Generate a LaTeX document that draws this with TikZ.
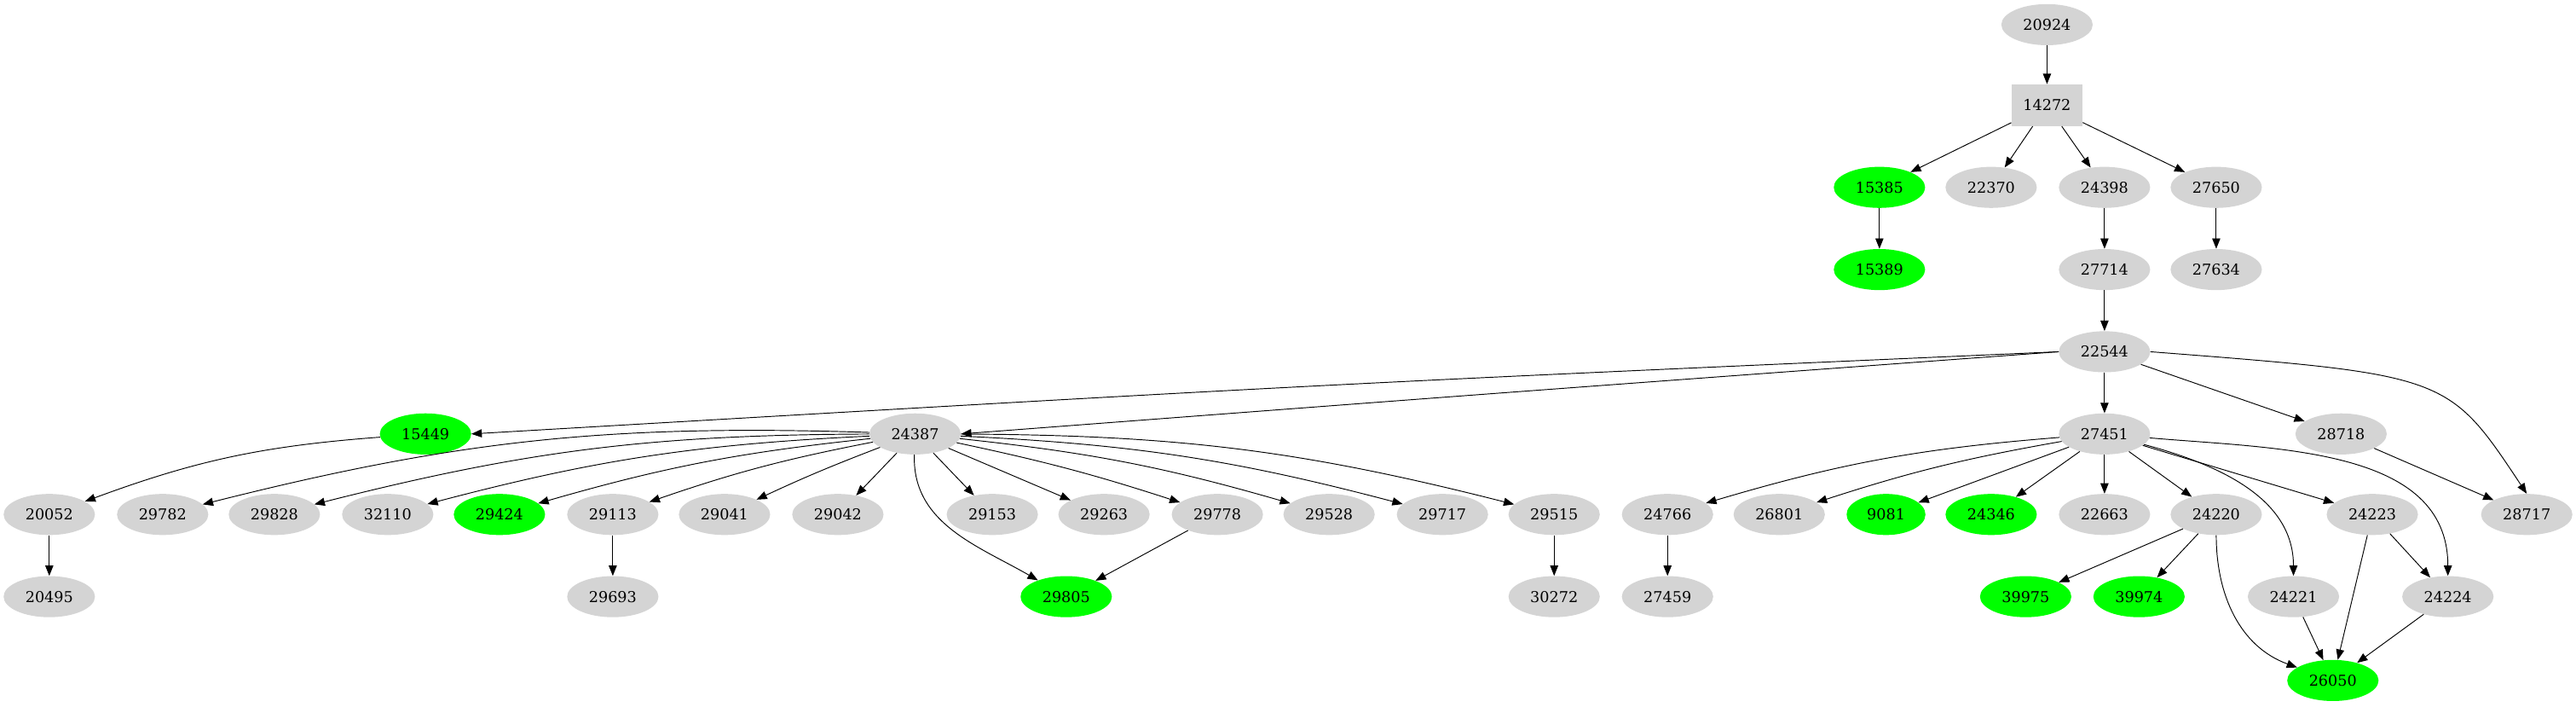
\documentclass[tikz,border=0pt]{standalone}
\usepackage{fontspec}
\setmainfont{DejaVu Serif}
\usetikzlibrary{shapes.geometric,arrows.meta}
\begin{document}
\begin{tikzpicture}[x=0.05cm,y=-0.05cm,
 nd/.style={ellipse,fill=black!17,minimum width=2.78cm,minimum height=1.25cm,inner sep=0pt,font=\fontsize{13}{13}\selectfont},
 gn/.style={nd,fill=green},
 nn/.style={minimum width=2.4cm},
 bx/.style={rectangle,fill=black!17,minimum width=2.16cm,minimum height=1.27cm,font=\fontsize{13}{13}\selectfont},
 e/.style={-{Triangle[length=9pt,width=7pt]},line width=0.7pt}]
\useasboundingbox (0,0) rectangle (1568,430);
\node[nd] (a20924) at (1246,15) {20924};
\node[bx] (a14272) at (1246,64) {14272};
\node[gn] (a15385) at (1144,114) {15385};
\node[nd] (a22370) at (1212,114) {22370};
\node[nd] (a24398) at (1281,114) {24398};
\node[nd] (a27650) at (1349,114) {27650};
\node[gn] (a15389) at (1144,164) {15389};
\node[nd] (a27714) at (1281,164) {27714};
\node[nd] (a27634) at (1349,164) {27634};
\node[nd] (a22544) at (1281,214) {22544};
\node[gn] (a15449) at (259,264) {15449};
\node[nd] (a24387) at (557,264) {24387};
\node[nd] (a27451) at (1281,264) {27451};
\node[nd] (a28718) at (1425,264) {28718};
\foreach \n/\x/\s in {20052/30/nd,29782/99/nd,29828/167/nd,32110/236/nd,29424/304/gn,29113/373/nd,29041/441/nd,29042/510/nd,29153/604/nd,29263/672/nd,29778/741/nd,29528/809/nd,29717/878/nd,29515/946/nd,24766/1015/nd,26801/1083/nd,24346/1212/gn,22663/1281/nd,24220/1349/nd,24223/1444/nd,28717/1538/nd}
  \node[\s] (a\n) at (\x,313) {\n};
\node[gn,nn] (a9081) at (1148,313) {9081};
\foreach \n/\x/\s in {20495/30/nd,29693/373/nd,29805/649/gn,30272/946/nd,27459/1015/nd,39975/1233/gn,39974/1302/gn,24221/1396/nd,24224/1490/nd}
  \node[\s] (a\n) at (\x,363) {\n};
\node[gn] (a26050) at (1420,414) {26050};
\draw[e] (a20924)--(a14272);
\foreach \t in {15385,22370,24398,27650} \draw[e] (a14272)--(a\t);
\draw[e] (a15385)--(a15389);
\draw[e] (a24398)--(a27714);
\draw[e] (a27650)--(a27634);
\draw[e] (a27714)--(a22544);
\coordinate (c1) at (800,234);
\coordinate (c2) at (900,240);
\draw[e] (a22544.west) .. controls (c1) .. (a15449.east);
\draw[e] (a22544.west) .. controls (c2) .. (a24387.east);
\draw[e] (a22544)--(a27451);
\draw[e] (a22544)--(a28718);
\coordinate (c3) at (1490,228);
\draw[e] (a22544.east) .. controls (c3) .. (a28717.north);
\draw[e] (a28718)--(a28717);
\draw[e] (a15449) to[bend right=8] (a20052);
\draw[e] (a20052)--(a20495);
\foreach \t/\b in {29782/8,29828/7,32110/6,29424/5,29113/4,29041/2,29042/0,29153/0,29263/0,29778/-3,29528/-5,29717/-6,29515/-7}
  \draw[e] (a24387) to[bend right=\b] (a\t);
\draw[e] (a24387) to[out=-92,in=150] (a29805);
\draw[e] (a29778)--(a29805);
\draw[e] (a29113)--(a29693);
\draw[e] (a29515)--(a30272);
\draw[e] (a24766)--(a27459);
\foreach \t/\b in {24766/6,26801/4,9081/0,24346/0,22663/0,24220/0,24223/0} \draw[e] (a27451) to[bend right=\b] (a\t);
\draw[e] (a27451) to[out=-15,in=90] (a24221);
\draw[e] (a27451) to[out=-5,in=90] (a24224);
\draw[e] (a24220)--(a39975);
\draw[e] (a24220)--(a39974);
\draw[e] (a24220) to[out=-90,in=160] (a26050);
\draw[e] (a24223)--(a24224);
\draw[e] (a24223)--(a26050);
\draw[e] (a24221)--(a26050);
\draw[e] (a24224)--(a26050);
\end{tikzpicture}
\end{document}
